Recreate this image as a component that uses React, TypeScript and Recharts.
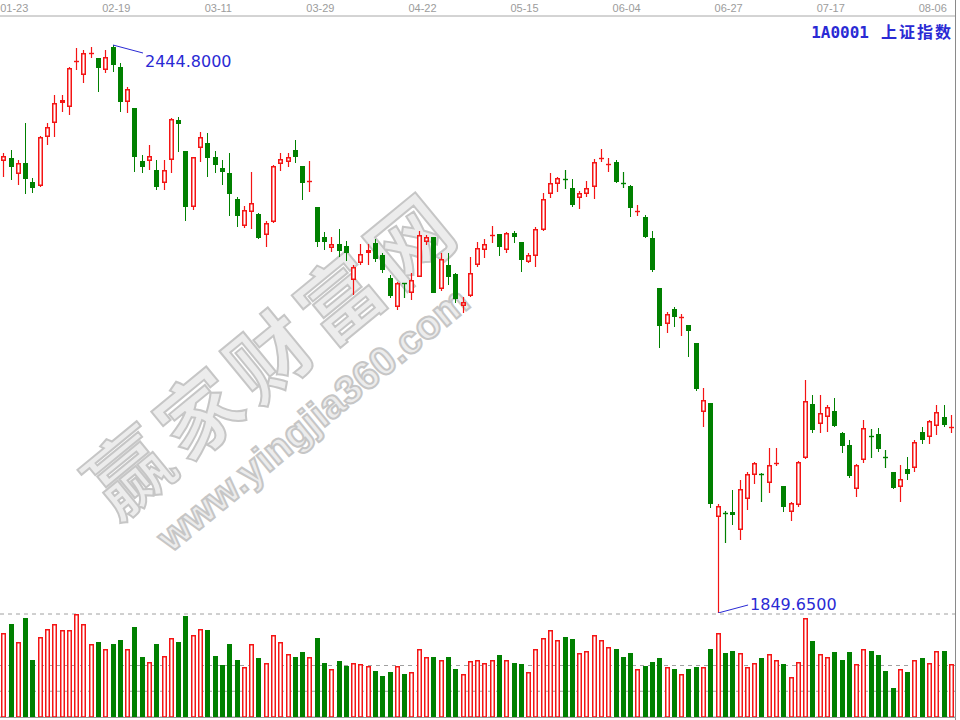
import React from 'react';
import { ComposedChart, Bar, XAxis, YAxis, CartesianGrid, ReferenceDot } from 'recharts';

// SSE Composite (1A0001), daily bars, 2013-01-21 .. 2013-08-08
const dates = [
  '01-21', '01-22', '01-23', '01-24', '01-25', '01-28', '01-29', '01-30', '01-31',
  '02-01', '02-04', '02-05', '02-06', '02-07', '02-08', '02-18', '02-19', '02-20', '02-21', '02-22', '02-25', '02-26', '02-27', '02-28',
  '03-01', '03-04', '03-05', '03-06', '03-07', '03-08', '03-11', '03-12', '03-13', '03-14', '03-15', '03-18', '03-19', '03-20', '03-21', '03-22', '03-25', '03-26', '03-27', '03-28', '03-29',
  '04-01', '04-02', '04-03', '04-08', '04-09', '04-10', '04-11', '04-12', '04-15', '04-16', '04-17', '04-18', '04-19', '04-22', '04-23', '04-24', '04-25', '04-26',
  '05-02', '05-03', '05-06', '05-07', '05-08', '05-09', '05-10', '05-13', '05-14', '05-15', '05-16', '05-17', '05-20', '05-21', '05-22', '05-23', '05-24', '05-27', '05-28', '05-29', '05-30', '05-31',
  '06-03', '06-04', '06-05', '06-06', '06-07', '06-13', '06-14', '06-17', '06-18', '06-19', '06-20', '06-21', '06-24', '06-25', '06-26', '06-27', '06-28',
  '07-01', '07-02', '07-03', '07-04', '07-05', '07-08', '07-09', '07-10', '07-11', '07-12', '07-15', '07-16', '07-17', '07-18', '07-19', '07-22', '07-23', '07-24', '07-25', '07-26', '07-29', '07-30', '07-31',
  '08-01', '08-02', '08-05', '08-06', '08-07', '08-08',
];

const opens = [
  2323.3, 2326.7, 2309.6, 2320.8, 2300.9, 2297.1, 2348.7, 2362.8, 2383.7, 2380.2,
  2427.3, 2413.4, 2435.4, 2430.9, 2418.6, 2443.0, 2422.1, 2385.4, 2379.1, 2323.6,
  2323.6, 2313.8, 2299.9, 2324.3, 2366.2, 2333.7, 2274.7, 2336.6, 2341.8, 2327.1,
  2315.6, 2310.4, 2283.1, 2255.2, 2270.1, 2267.7, 2245.7, 2259.7, 2320.1, 2322.5,
  2334.8, 2318.3, 2302.0, 2274.7, 2243.6, 2231.8, 2236.3, 2234.2, 2198.6, 2216.7,
  2227.2, 2237.0, 2224.8, 2200.4, 2170.6, 2195.1, 2184.6, 2202.0, 2238.7, 2243.9,
  2188.8, 2214.3, 2204.9, 2171.3, 2181.8, 2214.3, 2230.0, 2245.0, 2246.8, 2230.0,
  2248.1, 2238.7, 2217.7, 2223.7, 2251.0, 2288.7, 2299.2, 2304.1, 2294.7, 2284.2,
  2288.7, 2296.3, 2325.7, 2319.4, 2322.5, 2300.5, 2297.1, 2270.9, 2264.9, 2242.3,
  2189.9, 2152.5, 2167.9, 2158.8, 2151.4, 2132.9, 2060.6, 2069.4, 1949.9, 1954.1,
  1955.8, 1936.6, 1968.8, 1994.2, 1995.3, 1985.6, 2006.5, 1982.7, 1955.8, 1962.8,
  2011.7, 2068.6, 2047.7, 2055.3, 2061.6, 2038.6, 2025.7, 1979.3, 2010.0, 2035.1,
  2037.2, 2012.8, 1997.7, 1982.0, 2000.2, 2001.3, 2039.6, 2034.4, 2045.6, 2055.3, 2043.5,
];

const highs = [
  2331.6, 2334.8, 2324.3, 2362.8, 2305.1, 2349.5, 2362.8, 2392.4, 2392.4, 2422.1,
  2441.3, 2439.6, 2443.0, 2430.9, 2440.0, 2444.8, 2425.6, 2401.1, 2379.1, 2329.5,
  2340.0, 2324.3, 2324.3, 2368.0, 2369.7, 2333.7, 2327.8, 2353.3, 2352.3, 2334.1,
  2324.3, 2332.0, 2285.9, 2276.1, 2312.0, 2269.1, 2260.7, 2319.1, 2332.0, 2332.0,
  2345.3, 2318.3, 2323.6, 2274.7, 2248.9, 2243.9, 2251.7, 2239.7, 2214.3, 2236.3,
  2236.3, 2241.2, 2227.2, 2203.8, 2196.8, 2195.7, 2205.6, 2250.2, 2245.7, 2243.9,
  2226.5, 2227.2, 2206.2, 2181.1, 2222.4, 2238.7, 2241.2, 2255.2, 2246.8, 2249.2,
  2250.2, 2238.7, 2226.5, 2253.8, 2289.4, 2310.4, 2306.2, 2313.8, 2304.1, 2292.1,
  2302.6, 2325.0, 2335.5, 2326.1, 2324.3, 2312.0, 2298.1, 2277.2, 2266.7, 2250.2,
  2189.9, 2165.4, 2170.0, 2162.9, 2151.4, 2132.9, 2085.1, 2069.4, 1963.9, 1956.8,
  1978.5, 1989.0, 1997.7, 2008.2, 1996.0, 2022.2, 2022.2, 1982.7, 1966.3, 2009.2,
  2093.8, 2078.1, 2078.1, 2067.6, 2074.6, 2039.6, 2030.9, 2005.8, 2051.9, 2042.1,
  2043.2, 2020.4, 1997.7, 2004.7, 2012.8, 2030.9, 2044.2, 2051.9, 2067.6, 2067.6, 2057.1,
];

const lows = [
  2306.5, 2303.4, 2298.1, 2288.7, 2289.4, 2296.3, 2340.0, 2348.7, 2374.9, 2371.5,
  2418.6, 2404.7, 2430.9, 2395.9, 2415.1, 2416.8, 2374.9, 2373.2, 2312.0, 2310.4,
  2313.8, 2292.9, 2292.9, 2310.4, 2333.0, 2260.7, 2271.9, 2322.5, 2306.8, 2310.4,
  2298.1, 2265.6, 2254.4, 2252.7, 2251.7, 2241.2, 2233.5, 2258.6, 2313.1, 2317.3,
  2320.8, 2282.4, 2291.1, 2233.5, 2230.0, 2228.2, 2222.4, 2218.8, 2182.9, 2214.3,
  2214.3, 2217.7, 2205.6, 2179.4, 2167.1, 2179.4, 2177.6, 2201.4, 2235.2, 2184.6,
  2187.4, 2193.3, 2174.8, 2164.3, 2181.1, 2212.5, 2221.3, 2237.0, 2223.7, 2226.5,
  2237.0, 2207.3, 2216.1, 2212.5, 2250.2, 2284.2, 2291.1, 2293.6, 2275.4, 2272.6,
  2285.9, 2283.1, 2322.5, 2312.0, 2300.5, 2294.7, 2264.9, 2265.6, 2242.3, 2207.3,
  2127.0, 2143.4, 2149.0, 2139.9, 2117.6, 2082.6, 2044.2, 1959.4, 1849.65, 1923.3,
  1941.9, 1926.1, 1957.6, 1984.8, 1966.3, 1975.7, 2003.7, 1955.8, 1946.4, 1961.0,
  2010.7, 2037.9, 2037.9, 2039.6, 2044.2, 2017.6, 1990.8, 1970.9, 2007.1, 2011.7,
  2018.7, 2001.3, 1979.3, 1966.3, 1989.0, 1997.7, 2026.7, 2026.7, 2036.2, 2044.9, 2037.9,
];

const closes = [
  2328.5, 2316.7, 2321.5, 2304.4, 2294.7, 2348.7, 2359.2, 2383.7, 2387.2, 2420.4,
  2428.4, 2436.1, 2436.4, 2420.4, 2432.5, 2423.8, 2385.4, 2398.4, 2327.8, 2316.7,
  2328.5, 2296.3, 2313.8, 2367.0, 2362.0, 2275.4, 2327.1, 2348.1, 2326.1, 2319.1,
  2311.4, 2288.7, 2265.6, 2271.9, 2278.9, 2242.3, 2258.6, 2318.3, 2325.0, 2327.8,
  2327.8, 2300.5, 2302.6, 2238.7, 2238.4, 2236.3, 2229.3, 2227.2, 2212.5, 2225.5,
  2230.0, 2220.3, 2209.0, 2181.8, 2195.1, 2194.4, 2198.6, 2245.7, 2243.9, 2185.3,
  2220.3, 2201.4, 2178.3, 2175.8, 2206.2, 2231.8, 2236.3, 2246.0, 2233.5, 2248.1,
  2243.9, 2219.5, 2224.8, 2251.7, 2283.1, 2300.5, 2305.1, 2303.4, 2277.2, 2289.4,
  2294.7, 2322.5, 2326.4, 2320.1, 2301.6, 2299.9, 2273.7, 2271.2, 2243.3, 2209.0,
  2150.4, 2162.6, 2159.5, 2159.5, 2145.4, 2084.0, 2072.8, 1963.9, 1961.8, 1953.4,
  1952.3, 1979.3, 1995.3, 2006.5, 1994.6, 2004.7, 2007.1, 1960.4, 1964.6, 2008.2,
  2072.1, 2041.4, 2059.5, 2065.8, 2045.6, 2024.6, 1993.2, 2004.7, 2043.2, 2034.4,
  2021.2, 2012.1, 1980.3, 1989.7, 1995.3, 2029.1, 2030.9, 2051.1, 2060.6, 2046.6, 2044.2,
];

// volume, scaled so that the top dashed line is 200
const volumes = [
  163, 181, 145, 193, 111, 156, 171, 181, 168, 168,
  200, 181, 141, 145, 132, 141, 150, 132, 174, 117,
  107, 141, 119, 153, 145, 196, 159, 171, 168, 119,
  101, 141, 111, 98, 141, 114, 104, 159, 145, 122,
  117, 126, 117, 153, 105, 93, 109, 99, 105, 102,
  99, 90, 80, 87, 99, 84, 87, 132, 117, 117,
  111, 117, 93, 84, 109, 111, 105, 111, 120, 111,
  105, 102, 87, 132, 153, 168, 150, 156, 151, 124,
  129, 159, 150, 135, 132, 117, 124, 93, 99, 107,
  114, 97, 93, 84, 93, 97, 97, 132, 164, 124,
  129, 124, 97, 105, 114, 122, 111, 102, 77, 107,
  193, 148, 122, 117, 126, 111, 126, 102, 132, 129,
  120, 90, 57, 93, 87, 111, 114, 105, 129, 129, 102,
];

const labelDates = ['01-23', '02-19', '03-11', '03-29', '04-22', '05-15', '06-04', '06-27', '07-17', '08-06'];
const priceDomain = [1849.65, 2475.19];
const volumeTicks = [50, 100, 150, 200];

const UP = '#f41414';
const DOWN = '#008000';
const BLUE = '#2a2ad4';

const data = dates.map((date, i) => ({
  date,
  open: opens[i],
  high: highs[i],
  low: lows[i],
  close: closes[i],
  volume: volumes[i],
}));

const hiIdx = highs.indexOf(Math.max(...highs));
const loIdx = lows.indexOf(Math.min(...lows));

const Candle = (props: any) => {
  const { x, y, width, height, payload } = props;
  const { open, close, high, low } = payload;
  const py = (v: number) => y + ((high - v) / (high - low)) * height;
  const left = Math.round(x + width / 2 - 2.5);
  const mid = left + 2.5;
  const up = close >= open;
  const hy = Math.round(py(high));
  const ly = Math.round(py(low));
  const top = Math.round(py(Math.max(open, close)));
  const bot = Math.round(py(Math.min(open, close)));

  if (bot - top <= 1) {
    const c = up ? UP : DOWN;
    return (
      <g>
        <line x1={mid} x2={mid} y1={hy} y2={ly} stroke={c} strokeWidth={1.2} />
        <line x1={left} x2={left + 5} y1={top + 0.5} y2={top + 0.5} stroke={c} strokeWidth={1.4} />
      </g>
    );
  }
  if (up) {
    return (
      <g>
        <line x1={mid} x2={mid} y1={hy} y2={top} stroke={UP} strokeWidth={1.2} />
        <line x1={mid} x2={mid} y1={bot} y2={ly} stroke={UP} strokeWidth={1.2} />
        <rect x={left + 0.75} y={top + 0.75} width={3.5} height={bot - top - 1.5} fill="#fff" stroke={UP} strokeWidth={1.5} />
      </g>
    );
  }
  return (
    <g shapeRendering="crispEdges">
      <line x1={mid} x2={mid} y1={hy} y2={ly} stroke={DOWN} />
      <rect x={left} y={top} width={5} height={bot - top} fill={DOWN} />
    </g>
  );
};

const VolBar = (props: any) => {
  const { x, y, width, height, payload } = props;
  const up = payload.close >= payload.open;
  const left = Math.round(x + width / 2 - 2.5);
  const top = Math.round(y);
  const bottom = Math.round(y + height);
  if (up) {
    return (
      <rect x={left + 0.75} y={top + 0.75} width={3.5} height={bottom - top - 0.75} fill="#fff" stroke={UP} strokeWidth={1.5} />
    );
  }
  return <rect x={left} y={top} width={5} height={bottom - top} fill={DOWN} shapeRendering="crispEdges" />;
};

const DateTick = (props: any) => {
  const { x, payload } = props;
  if (!labelDates.includes(payload.value)) return <g />;
  return (
    <text x={x - 4} y={12} textAnchor="middle" fontSize={11} fill="#9c9c9c" fontFamily="'Liberation Sans', Arial, sans-serif">
      {payload.value}
    </text>
  );
};

const Note = (props: any) => {
  const { cx, cy, text, dy } = props;
  return (
    <g>
      <line x1={cx} y1={cy} x2={cx + 30} y2={cy + dy} stroke={BLUE} strokeWidth={1} />
      <text x={cx + 32} y={cy + (dy > 0 ? 22 : -3)} fontSize={16} fill={BLUE} fontFamily="'DejaVu Sans', sans-serif">
        {text}
      </text>
    </g>
  );
};

const watermark: React.CSSProperties = {
  position: 'absolute',
  whiteSpace: 'nowrap',
  fontWeight: 700,
  color: '#ececec',
  WebkitTextStroke: '2px #c6c6c6',
  transform: 'translate(-50%, -50%) rotate(-39.4deg)',
};

export default function App() {
  return (
    <div style={{ position: 'absolute', left: 0, top: 0, width: 960, height: 720, background: '#fff', overflow: 'hidden' }}>
      <div style={{ ...watermark, left: 270, top: 350, fontSize: 82, letterSpacing: 9, fontFamily: "'Noto Sans CJK SC', sans-serif" }}>
        赢家财富网
      </div>
      <div style={{ ...watermark, left: 313, top: 419, fontSize: 40, fontFamily: "'Liberation Sans', Arial, sans-serif" }}>
        www.yingjia360.com
      </div>

      <div style={{ position: 'absolute', left: 0, top: 0 }}>
        <ComposedChart width={955} height={613} data={data} margin={{ top: 0, right: 0, bottom: 0, left: 0 }}>
          <XAxis
            dataKey="date"
            orientation="top"
            height={16}
            interval={0}
            tickLine={false}
            axisLine={{ stroke: '#a8a8a8' }}
            tick={<DateTick />}
          />
          <YAxis hide domain={priceDomain} allowDataOverflow />
          <Bar dataKey={(d: any) => [d.low, d.high]} shape={<Candle />} isAnimationActive={false} />
          <ReferenceDot
            x={dates[hiIdx]}
            y={highs[hiIdx]}
            shape={(p: any) => <Note {...p} dy={8} text={highs[hiIdx].toFixed(4)} />}
          />
          <ReferenceDot
            x={dates[loIdx]}
            y={lows[loIdx]}
            shape={(p: any) => <Note {...p} dy={-8} text={lows[loIdx].toFixed(4)} />}
          />
        </ComposedChart>
      </div>

      <div style={{ position: 'absolute', left: 0, top: 612 }}>
        <ComposedChart width={955} height={106} data={data} margin={{ top: 2, right: 0, bottom: 1, left: 0 }}>
          <CartesianGrid vertical={false} stroke="#a0a0a0" strokeDasharray="4 4" />
          <XAxis dataKey="date" hide />
          <YAxis hide domain={[0, 200]} ticks={volumeTicks} allowDataOverflow />
          <Bar dataKey="volume" shape={<VolBar />} isAnimationActive={false} />
        </ComposedChart>
      </div>

      <div
        style={{
          position: 'absolute',
          right: 7,
          top: 21,
          color: BLUE,
          fontSize: 16,
          lineHeight: '20px',
          fontWeight: 700,
          whiteSpace: 'nowrap',
        }}
      >
        <span style={{ fontFamily: "'DejaVu Sans Mono', monospace" }}>1A0001</span>
        <span style={{ fontFamily: "'Noto Sans CJK SC', sans-serif", marginLeft: 12, letterSpacing: 2 }}>上证指数</span>
      </div>

      <div style={{ position: 'absolute', left: 955, top: 0, width: 1, height: 720, background: '#8a8a8a' }} />
      <div style={{ position: 'absolute', left: 0, top: 717, width: 956, height: 1, background: '#9a9a9a' }} />
    </div>
  );
}
